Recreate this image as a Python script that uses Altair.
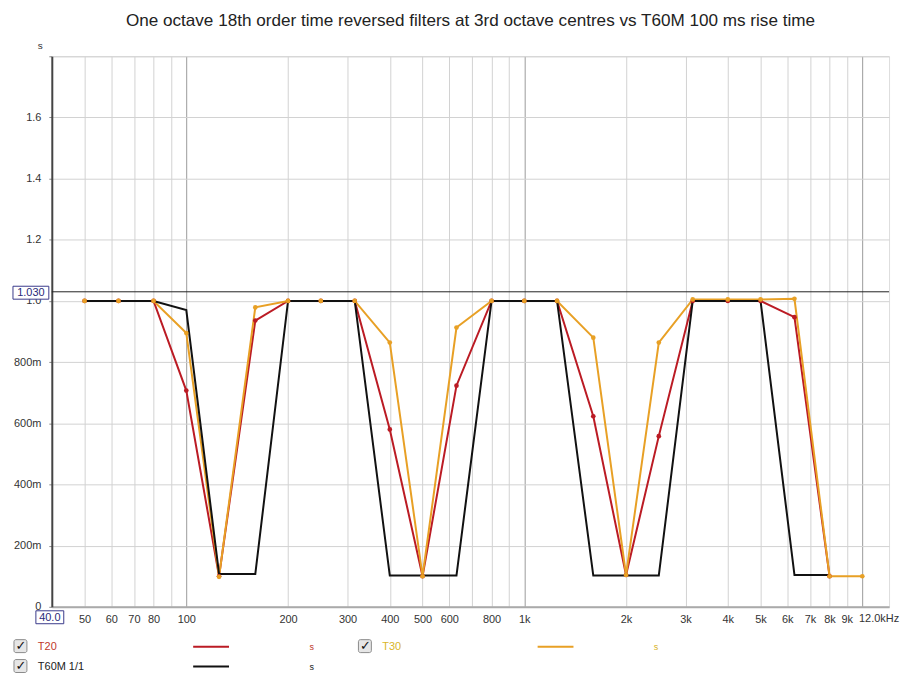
import altair as alt
import pandas as pd

# ---------------- data ----------------
freqs = [50, 63, 80, 100, 125, 160, 200, 250, 315, 400, 500, 630, 800,
         1000, 1250, 1600, 2000, 2500, 3150, 4000, 5000, 6300, 8000, 10000]

t20 = [1.0, 1.0, 1.0, 0.707, 0.10, 0.936, 1.0, 1.0, 1.0, 0.58, 0.10, 0.723,
       1.0, 1.0, 1.0, 0.623, 0.104, 0.558, 1.0, 1.0, 1.0, 0.947, 0.10]
t30 = [1.0, 1.0, 1.0, 0.895, 0.098, 0.979, 1.0, 1.0, 1.0, 0.864, 0.10, 0.913,
       1.0, 1.0, 1.0, 0.88, 0.104, 0.864, 1.005, 1.005, 1.005, 1.007, 0.10, 0.10]
t60m = [1.0, 1.0, 1.0, 0.97, 0.107, 0.107, 1.0, 1.0, 1.0, 0.102, 0.102, 0.102,
        1.0, 1.0, 1.0, 0.102, 0.102, 0.102, 1.0, 1.0, 1.0, 0.104, 0.104]

series_names = ["T20", "T30", "T60M 1/1"]
series_colors = ["#bb1b24", "#e8a025", "#111111"]
marker_value = 1.030

x_tick_values = [50, 60, 70, 80, 90, 100, 200, 300, 400, 500, 600, 700, 800, 900,
                 1000, 2000, 3000, 4000, 5000, 6000, 7000, 8000, 9000, 10000]
y_tick_values = [0, 0.2, 0.4, 0.6, 0.8, 1.0, 1.2, 1.4, 1.6, 1.8]

title_text = "One octave 18th order time reversed filters at 3rd octave centres vs T60M 100 ms rise time"

rows = []
for name, vals in zip(series_names, [t20, t30, t60m]):
    for f, v in zip(freqs, vals):
        rows.append({"freq": f, "value": v, "series": name})
df = pd.DataFrame(rows)

W, H = 841, 553
FONT = "Liberation Sans"

color_scale = alt.Scale(domain=series_names, range=series_colors)
x_scale = alt.Scale(type="log", domain=[40, 12000], nice=False)
y_scale = alt.Scale(domain=[0, 1.8], nice=False)

x_axis = alt.Axis(
    values=x_tick_values,
    labelExpr=("(datum.value==90||datum.value==700||datum.value==900||datum.value==10000) ? '' : "
               "(datum.value>=1000 ? (datum.value/1000)+'k' : datum.value+'')"),
    title=None, ticks=False, labelPadding=7, labelFontSize=11, labelColor="#333",
    labelFont=FONT, domainColor="#aaaaaa", domainWidth=2,
    gridColor={"condition": {"test": "datum.value==100||datum.value==1000||datum.value==10000",
                             "value": "#9a9a9a"}, "value": "#d2d2d2"},
    labelOverlap=False,
)
y_axis = alt.Axis(
    values=y_tick_values,
    labelExpr=("datum.value>1.7 ? '' : (datum.value==0 ? '0' : (datum.value<0.95 ? "
               "format(datum.value*1000,'.0f')+'m' : format(datum.value,'.1f')))"),
    title="s", titleAngle=0, titleX=-12, titleY=-6, titleFontSize=10,
    titleFontWeight="normal", titleFont=FONT, titleColor="#333",
    tickSize=3, tickColor="#888", labelPadding=8, labelFontSize=11,
    labelColor="#333", labelFont=FONT, domainColor="#444", domainWidth=2,
    gridColor="#d2d2d2",
)

base = alt.Chart(df)

lines = base.mark_line(strokeWidth=2).encode(
    x=alt.X("freq:Q", scale=x_scale, axis=x_axis),
    y=alt.Y("value:Q", scale=y_scale, axis=y_axis),
    color=alt.Color("series:N", scale=color_scale, legend=None),
    order=alt.Order("freq:Q"),
)
# draw order: T20, T30, then T60M on top
line_t20 = lines.transform_filter(alt.datum.series == "T20")
line_t30 = lines.transform_filter(alt.datum.series == "T30")
line_t60 = lines.transform_filter(alt.datum.series == "T60M 1/1")

points = base.mark_circle(size=22, opacity=1).encode(
    x=alt.X("freq:Q", scale=x_scale),
    y=alt.Y("value:Q", scale=y_scale),
    color=alt.Color("series:N", scale=color_scale, legend=None),
).transform_filter(alt.datum.series != "T60M 1/1")

marker_df = pd.DataFrame({"v": [marker_value]})
marker_rule = alt.Chart(marker_df).mark_rule(color="#222", strokeWidth=1).encode(
    y=alt.Y("v:Q", scale=y_scale)
)
marker_box = alt.Chart(marker_df).mark_rect(
    fill="white", stroke="#3a3a8a", strokeWidth=1
).encode(x=alt.value(-39), x2=alt.value(-3), y=alt.value(231), y2=alt.value(244))
marker_text = alt.Chart(marker_df).mark_text(
    font=FONT, fontSize=11, color="#2a2a7a", align="center", baseline="middle"
).encode(x=alt.value(-21), y=alt.value(237.5), text=alt.Text("v:Q", format=".3f"))

# x-axis end annotations
start_df = pd.DataFrame({"t": ["40.0"]})
start_box = alt.Chart(start_df).mark_rect(
    fill="white", stroke="#3a3a8a", strokeWidth=1
).encode(x=alt.value(-16), x2=alt.value(12), y=alt.value(557), y2=alt.value(570))
start_text = alt.Chart(start_df).mark_text(
    font=FONT, fontSize=11, color="#2a2a7a", align="center", baseline="middle"
).encode(x=alt.value(-2), y=alt.value(564), text="t:N")
end_df = pd.DataFrame({"t": ["12.0kHz"]})
end_text = alt.Chart(end_df).mark_text(
    font=FONT, fontSize=11, color="#333", align="center", baseline="middle"
).encode(x=alt.value(831), y=alt.value(565), text="t:N")

# legend
legend_layers = []
legend_pos = [(-38, 593), (308, 593), (-38, 613)]  # checkbox left x, row centre y
for name, col, (lx, ly) in zip(series_names, series_colors, legend_pos):
    ldf = pd.DataFrame({"t": [name]})
    box = alt.Chart(ldf).mark_rect(
        fill="#e6e6e6", stroke="#8a8a8a", strokeWidth=1, cornerRadius=2
    ).encode(x=alt.value(lx), x2=alt.value(lx + 13), y=alt.value(ly - 7), y2=alt.value(ly + 6))
    check = alt.Chart(ldf).mark_text(
        text="✓", font="DejaVu Sans", fontSize=13, fontWeight="bold", color="#111",
        align="center", baseline="middle"
    ).encode(x=alt.value(lx + 7), y=alt.value(ly - 1))
    label_color = {"T20": "#c0392b", "T30": "#d9b52a"}.get(name, "#222")
    label = alt.Chart(ldf).mark_text(
        font=FONT, fontSize=11, color=label_color, align="left", baseline="middle"
    ).encode(x=alt.value(lx + 24), y=alt.value(ly), text="t:N")
    sample = alt.Chart(ldf).mark_rule(color=col, strokeWidth=2).encode(
        x=alt.value(lx + 180), x2=alt.value(lx + 216), y=alt.value(ly)
    )
    unit = alt.Chart(ldf).mark_text(
        text="s", font=FONT, fontSize=9, color=label_color, align="center", baseline="middle"
    ).encode(x=alt.value(lx + 299), y=alt.value(ly))
    legend_layers += [box, check, label, sample, unit]

chart = alt.layer(
    line_t20, line_t30, line_t60, points, marker_rule, marker_box, marker_text,
    start_box, start_text, end_text, *legend_layers
).properties(
    width=W, height=H,
    title=alt.TitleParams(title_text, font=FONT, fontSize=17.2, fontWeight="normal",
                          color="#222", anchor="middle", offset=11),
    autosize=alt.AutoSizeParams(type="none"),
    padding={"left": 44, "top": 47, "right": 12, "bottom": 66},
).configure_view(
    stroke="#9a9a9a", strokeWidth=1
).configure(background="white")

chart.save("out.html", embed_options={"renderer": "svg", "actions": False})
